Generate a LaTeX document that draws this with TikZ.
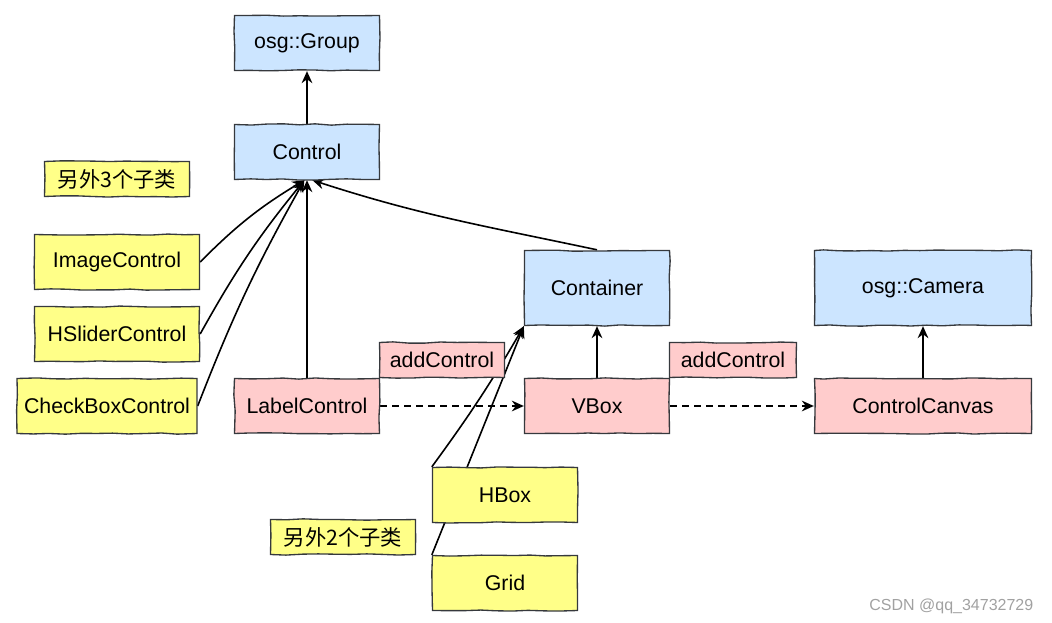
\documentclass[tikz,border=0pt]{standalone}
\usepackage{fontspec}
\setmainfont{Liberation Sans}
\newfontfamily\cjk{Noto Sans CJK SC}
\usetikzlibrary{arrows.meta,backgrounds,decorations.pathmorphing}
\definecolor{boxline}{RGB}{54,57,61}
\definecolor{boxblue}{RGB}{204,229,255}
\definecolor{boxpink}{RGB}{255,204,204}
\definecolor{boxyellow}{RGB}{255,255,136}
\tikzset {>={Stealth[length=9pt,width=8pt]}}
\tikzset {
  box/.style={draw=boxline,line width=1pt,minimum width=108.75pt,minimum height=41.25pt,
    font=\fontsize{16}{19}\selectfont,decorate,
    decoration={random steps,segment length=12pt,amplitude=.5pt}},
  bluebox/.style={box,fill=boxblue},
  pinkbox/.style={box,fill=boxpink},
  yellowbox/.style={box,fill=boxyellow},
  tagbox/.style={minimum height=26.25pt},
  link/.style={line width=1.2pt,->},
  calllink/.style={link,dash pattern=on 5pt off 4pt}
}

\begin{document}
\pgfmathsetseed{7}
\begin{tikzpicture}[x=.75pt,y=-.75pt]
\useasboundingbox (0,0) rectangle (1052,623);
\node[bluebox] (group) at (307,43) {osg::Group};
\node[bluebox] (control) at (307,152) {Control};
\node[yellowbox,tagbox] (other3) at (117,179) {\cjk 另外3个子类};
\node[yellowbox,minimum width=123.75pt] (image) at (117,262) {ImageControl};
\node[yellowbox,minimum width=123.75pt] (hslider) at (117,334) {HSliderControl};
\node[yellowbox,minimum width=135pt] (checkbox) at (107,406) {CheckBoxControl};
\node[pinkbox] (label) at (307,406) {LabelControl};
\node[pinkbox,tagbox,minimum width=93.75pt] (addA) at (442,360) {addControl};
\node[bluebox,minimum height=56.25pt] (container) at (597,288) {Container};
\node[pinkbox] (vbox) at (597,406) {VBox};
\node[pinkbox,tagbox,minimum width=95.25pt] (addB) at (733,360) {addControl};
\node[bluebox,minimum width=162.75pt,minimum height=56.25pt] (camera) at (923,288) {osg::Camera};
\node[pinkbox,minimum width=162.75pt] (canvas) at (923,406) {ControlCanvas};
\node[yellowbox] (hbox) at (505,495) {HBox};
\node[yellowbox,tagbox] (other2) at (343,537) {\cjk 另外2个子类};
\node[yellowbox] (grid) at (505,583) {Grid};
\node[anchor=east,text=black!37,font=\fontsize{12}{14}\selectfont] (mark) at (1038,606) {CSDN @qq\_34732729};

\begin{scope}[on background layer]
\draw[link] (control) -- (group);
\draw[link] (image.east) to[bend left=7] ([xshift=-2pt]control.south);
\draw[link] (hslider.east) to[bend left=5] ([xshift=-2pt]control.south);
\draw[link] (checkbox.east) to[bend left=4] ([xshift=-2pt]control.south);
\draw[link] (label.north) -- (control.south);
\draw[link] (container.north) to[out=168,in=-18] ([xshift=4pt]control.south);
\draw[link] (hbox.north west) to[bend right=3] (container.south west);
\draw[link] (grid.north west) -- (container.south west);
\draw[link] (vbox) -- (container);
\draw[link] (canvas) -- (camera);
\draw[calllink] (label) -- (vbox);
\draw[calllink] (vbox) -- (canvas);
\end{scope}
\end{tikzpicture}
\end{document}
